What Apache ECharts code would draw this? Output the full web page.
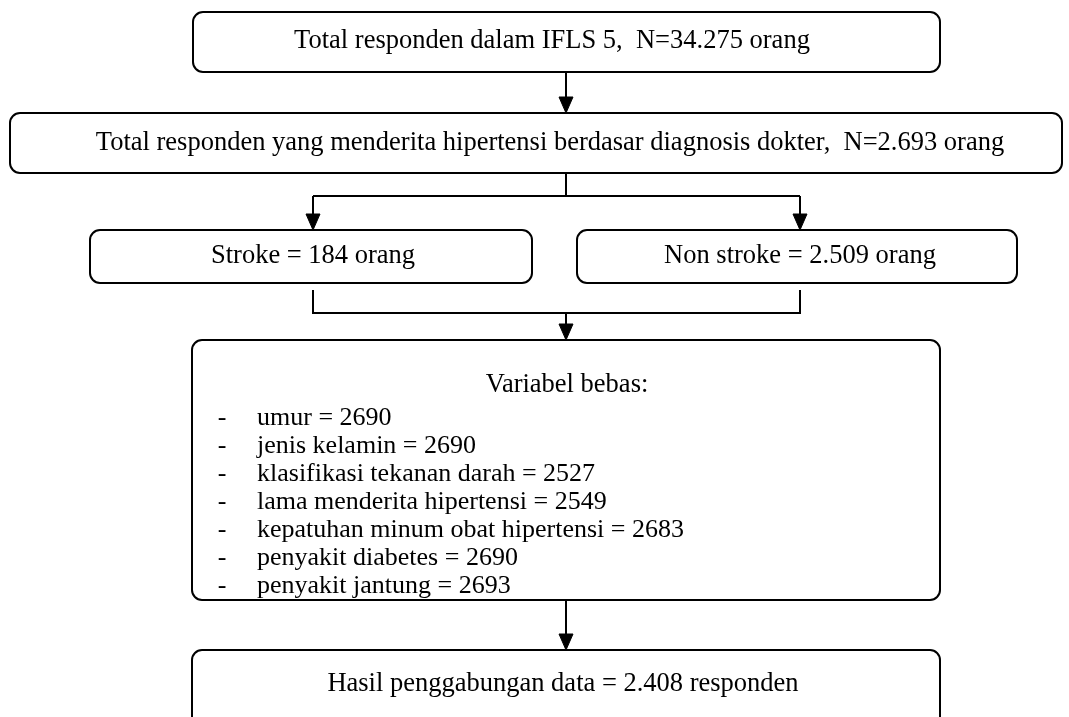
<!DOCTYPE html>
<html>
<head>
<meta charset="utf-8">
<script src="https://cdn.jsdelivr.net/npm/echarts@6/dist/echarts.min.js"></script>
<style>
  html, body { margin: 0; padding: 0; background: #fff; }
  #chart { width: 1069px; height: 717px; }
</style>
</head>
<body>
<div id="chart"></div>
<script>
// alur data penelitian
const totalIFLS = '34.275';
const totalHipertensi = '2.693';
const groupNames = ['Stroke', 'Non stroke'];
const groupCounts = ['184', '2.509'];
const variableNames = [
  'umur',
  'jenis kelamin',
  'klasifikasi tekanan darah',
  'lama menderita hipertensi',
  'kepatuhan minum obat hipertensi',
  'penyakit diabetes',
  'penyakit jantung'
];
const variableCounts = [2690, 2690, 2527, 2549, 2683, 2690, 2693];
const mergedCount = '2.408';

const FONT = '26.5px "Liberation Serif", "Times New Roman", serif';
const LIST_FONT = '26px "Liberation Serif", "Times New Roman", serif';
const LW = 2;

function box(x, y, w, h) {
  return {
    type: 'rect',
    shape: { x: x, y: y, width: w, height: h, r: 10 },
    style: { fill: '#fff', stroke: '#000', lineWidth: LW }
  };
}

function label(text, x, y, align, font) {
  return {
    type: 'text',
    x: x,
    y: y,
    style: {
      text: text,
      font: font || FONT,
      fill: '#000',
      align: align || 'center',
      textAlign: align || 'center',
      verticalAlign: 'middle',
      textVerticalAlign: 'middle'
    }
  };
}

function line(points) {
  return {
    type: 'polyline',
    shape: { points: points },
    style: { stroke: '#000', lineWidth: LW, fill: null }
  };
}

// garis vertikal dengan kepala panah di ujung bawah
function arrow(x, y0, y1) {
  return [
    line([[x, y0], [x, y1 - 15]]),
    {
      type: 'polygon',
      shape: { points: [[x - 7, y1 - 16], [x + 7, y1 - 16], [x, y1]] },
      style: { fill: '#000', stroke: '#000', lineWidth: 1 }
    }
  ];
}

let elements = [];

// kotak 1
elements.push(box(193, 12, 747, 60));
elements.push(label('Total responden dalam IFLS 5,  N=' + totalIFLS + ' orang', 552, 41));
elements = elements.concat(arrow(566, 72, 113));

// kotak 2
elements.push(box(10, 113, 1052, 60));
elements.push(label('Total responden yang menderita hipertensi berdasar diagnosis dokter,  N=' + totalHipertensi + ' orang', 550, 143));
elements.push(line([[566, 173], [566, 196]]));
elements.push(line([[313, 196], [800, 196]]));
elements = elements.concat(arrow(313, 196, 230));
elements = elements.concat(arrow(800, 196, 230));

// kotak stroke / non stroke
elements.push(box(90, 230, 442, 53));
elements.push(label(groupNames[0] + ' = ' + groupCounts[0] + ' orang', 313, 256));
elements.push(box(577, 230, 440, 53));
elements.push(label(groupNames[1] + ' = ' + groupCounts[1] + ' orang', 800, 256));
elements.push(line([[313, 290], [313, 313], [800, 313], [800, 290]]));
elements = elements.concat(arrow(566, 313, 340));

// kotak variabel bebas
elements.push(box(192, 340, 748, 260));
elements.push(label('Variabel bebas:', 567, 385));
variableNames.forEach(function (name, i) {
  const y = 418 + i * 28;
  elements.push(label('-', 222, y, 'center', LIST_FONT));
  elements.push(label(name + ' = ' + variableCounts[i], 257, y, 'left', LIST_FONT));
});
elements = elements.concat(arrow(566, 600, 650));

// kotak hasil
elements.push(box(192, 650, 748, 90));
elements.push(label('Hasil penggabungan data = ' + mergedCount + ' responden', 563, 684));

const chart = echarts.init(document.getElementById('chart'));
chart.setOption({
  backgroundColor: '#fff',
  animation: false,
  graphic: elements
});
</script>
</body>
</html>
